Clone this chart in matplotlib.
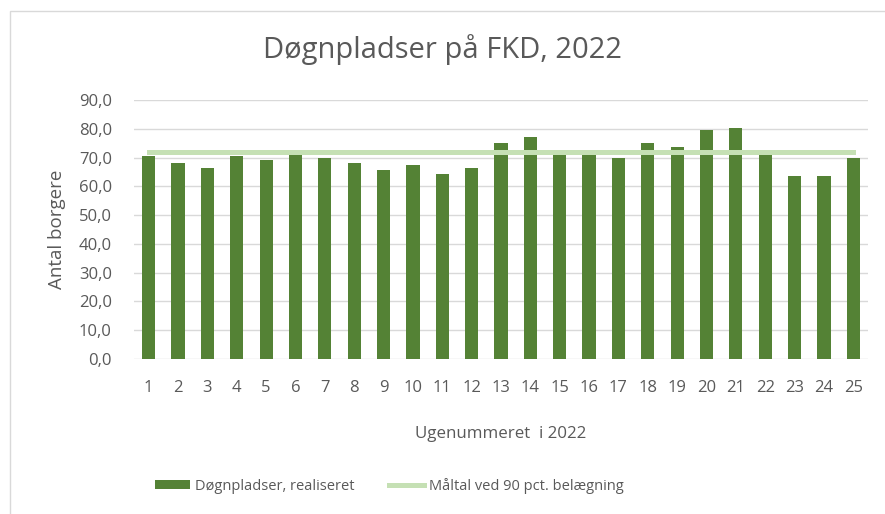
import numpy as np
import matplotlib.pyplot as plt
from matplotlib.patches import Rectangle

uger = list(range(1, 26))
realiseret = [70.7, 68.1, 66.3, 70.7, 69.0, 71.4, 70.0, 68.1, 65.6, 67.4,
              64.3, 66.3, 75.1, 77.0, 71.4, 71.4, 70.0, 75.1, 73.7, 79.7,
              80.1, 71.4, 63.6, 63.6, 70.0]
maaltal = [72.0] * 25

plt.rcParams['font.family'] = ['Open Sans', 'DejaVu Sans']
W, H = 885, 514
fig = plt.figure(figsize=(W / 100, H / 100), dpi=100)

# chart frame (left/top visible)
fig.patches.append(Rectangle((10 / W, -0.1), 1.2, 1 - 11 / H + 0.1, transform=fig.transFigure,
                             fill=False, edgecolor='#d9d9d9', lw=1))

ax = fig.add_axes([134 / W, 1 - 359 / H, (868 - 134) / W, (359 - 100) / H])
x = np.arange(len(uger))
bars = ax.bar(x, realiseret, width=0.45, color='#548235', zorder=2,
              label='Døgnpladser, realiseret')
line, = ax.plot(x, maaltal, color='#c5e0b4', lw=3.6, zorder=3,
                label='Måltal ved 90 pct. belægning')

ax.set_ylim(0, 90)
ax.set_xlim(-0.5, len(uger) - 0.5)
ax.set_yticks(np.arange(0, 91, 10))
ax.set_yticklabels([f'{v:.1f}'.replace('.', ',') for v in range(0, 91, 10)])
ax.set_xticks(x)
ax.set_xticklabels([str(u) for u in uger])
ax.tick_params(length=0, colors='#595959', labelsize=12)
ax.tick_params(axis='y', pad=16)
ax.tick_params(axis='x', pad=15)
ax.grid(axis='y', color='#d9d9d9', lw=1, zorder=0)
for s in ax.spines.values():
    s.set_visible(False)

ax.set_ylabel('Antal borgere', color='#595959', fontsize=13.5, labelpad=9)
ax.set_xlabel('Ugenummeret  i 2022', color='#595959', fontsize=12.2, labelpad=22)
fig.text(0.5, 1 - 50 / H, 'Døgnpladser på FKD, 2022', ha='center', va='center',
         fontsize=21, color='#595959')

fig.legend(handles=[bars, line], loc='center', bbox_to_anchor=(0.44, 1 - 486 / H),
           ncol=2, frameon=False, fontsize=10.5, labelcolor='#595959',
           handlelength=2.4, handleheight=0.55, columnspacing=2.4, handletextpad=0.35)

fig.savefig('out.png', dpi=100, facecolor='white')
